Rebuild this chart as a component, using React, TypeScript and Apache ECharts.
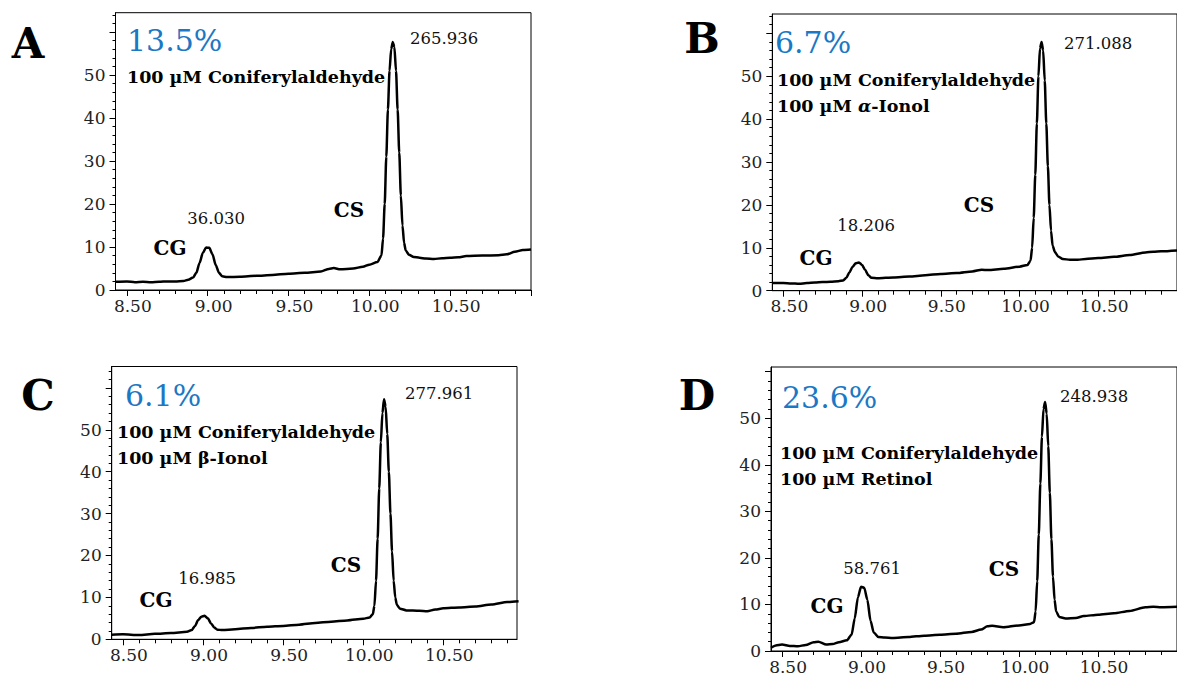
import React, { useEffect, useRef } from "react";
import * as echarts from "echarts";

// ---------- DATA ----------
const timeA = [8.43, 8.5, 8.55, 8.6, 8.65, 8.7, 8.75, 8.8, 8.85, 8.88, 8.91, 8.93, 8.95, 8.97, 8.99, 9.01, 9.03, 9.05, 9.07, 9.09, 9.12, 9.2, 9.3, 9.4, 9.5, 9.6, 9.7, 9.75, 9.78, 9.82, 9.9, 9.96, 10.0, 10.05, 10.075, 10.085, 10.095, 10.105, 10.115, 10.125, 10.135, 10.145, 10.155, 10.165, 10.175, 10.185, 10.195, 10.205, 10.215, 10.225, 10.245, 10.275, 10.31, 10.35, 10.4, 10.45, 10.5, 10.55, 10.6, 10.7, 10.8, 10.85, 10.9, 10.95, 11.0];
const signalA = [1.9, 2.0, 1.8, 1.9, 1.8, 1.9, 2.0, 2.0, 2.1, 2.4, 2.9, 4.0, 6.3, 8.6, 9.9, 9.8, 8.3, 5.8, 4.0, 3.2, 3.0, 3.1, 3.3, 3.5, 3.8, 4.0, 4.3, 4.9, 5.1, 4.8, 5.0, 5.4, 5.9, 6.5, 8.0, 12, 20, 31, 42, 51, 56, 57.7, 56.5, 51, 42, 32, 22, 15, 11, 9.2, 8.2, 7.7, 7.5, 7.3, 7.2, 7.4, 7.5, 7.6, 7.9, 8.0, 8.1, 8.3, 8.9, 9.3, 9.4];

const timeB = [8.43, 8.5, 8.55, 8.6, 8.65, 8.7, 8.75, 8.8, 8.85, 8.88, 8.9, 8.92, 8.94, 8.96, 8.98, 9.0, 9.02, 9.04, 9.06, 9.1, 9.2, 9.3, 9.4, 9.5, 9.6, 9.7, 9.76, 9.8, 9.9, 10.0, 10.05, 10.07, 10.08, 10.09, 10.1, 10.11, 10.12, 10.13, 10.14, 10.15, 10.16, 10.17, 10.18, 10.19, 10.2, 10.21, 10.225, 10.245, 10.275, 10.32, 10.37, 10.42, 10.5, 10.6, 10.7, 10.8, 10.85, 10.9, 11.0];
const signalB = [1.8, 1.8, 1.7, 1.6, 1.8, 1.9, 2.0, 2.1, 2.2, 2.4, 3.0, 4.3, 5.6, 6.4, 6.6, 6.0, 4.8, 3.6, 3.0, 2.9, 3.1, 3.3, 3.6, 3.9, 4.1, 4.5, 4.9, 4.8, 5.1, 5.6, 6.0, 7.0, 10, 17, 27, 39, 50, 56.5, 58, 56, 49, 39, 29, 20, 14, 10.5, 9.0, 8.0, 7.4, 7.2, 7.2, 7.4, 7.6, 7.9, 8.3, 8.9, 9.1, 9.2, 9.4];

const timeC = [8.43, 8.5, 8.6, 8.7, 8.8, 8.9, 8.93, 8.95, 8.97, 8.99, 9.01, 9.03, 9.05, 9.07, 9.09, 9.12, 9.2, 9.3, 9.4, 9.5, 9.6, 9.7, 9.8, 9.9, 10.0, 10.04, 10.06, 10.07, 10.08, 10.09, 10.1, 10.11, 10.12, 10.13, 10.14, 10.15, 10.16, 10.17, 10.18, 10.19, 10.2, 10.21, 10.23, 10.27, 10.35, 10.4, 10.45, 10.5, 10.6, 10.7, 10.8, 10.9, 10.97];
const signalC = [1.1, 1.2, 1.0, 1.3, 1.5, 1.8, 2.2, 3.2, 4.6, 5.4, 5.6, 5.0, 3.8, 2.8, 2.3, 2.2, 2.4, 2.7, 3.0, 3.2, 3.5, 3.9, 4.2, 4.5, 4.9, 5.2, 6.0, 8, 14, 24, 36, 47, 54, 57.3, 55.5, 49, 40, 30, 21, 14, 10, 8.2, 7.3, 6.9, 6.8, 6.7, 7.1, 7.4, 7.6, 7.8, 8.3, 8.9, 9.1];

const timeD = [8.43, 8.46, 8.5, 8.55, 8.6, 8.65, 8.7, 8.73, 8.78, 8.82, 8.86, 8.91, 8.94, 8.96, 8.98, 9.0, 9.02, 9.04, 9.06, 9.08, 9.11, 9.15, 9.2, 9.3, 9.4, 9.5, 9.6, 9.7, 9.76, 9.8, 9.83, 9.9, 10.0, 10.07, 10.095, 10.105, 10.115, 10.125, 10.135, 10.145, 10.155, 10.165, 10.175, 10.185, 10.195, 10.205, 10.215, 10.225, 10.235, 10.255, 10.295, 10.36, 10.41, 10.5, 10.6, 10.7, 10.8, 10.85, 10.9, 11.0];
const signalD = [0.7, 1.2, 1.4, 1.1, 1.0, 1.3, 1.9, 2.0, 1.4, 1.5, 1.9, 2.3, 3.5, 7.0, 11.5, 13.8, 13.6, 11, 6.5, 4.0, 3.0, 2.9, 2.8, 3.0, 3.3, 3.5, 3.7, 4.1, 4.6, 5.3, 5.4, 5.1, 5.5, 5.8, 6.2, 8.5, 15, 25, 36, 46, 52, 53.5, 51, 44, 34, 24, 16, 11, 8.5, 7.3, 7.0, 7.1, 7.5, 7.8, 8.1, 8.6, 9.4, 9.5, 9.4, 9.5];

const xLabelTicks = [8.5, 9.0, 9.5, 10.0, 10.5];
const xMajorTicks = [8.5, 9.0, 9.5, 10.0, 10.5, 11.0];
const xMinorTicks = [8.5, 8.6, 8.7, 8.8, 8.9, 9.0, 9.1, 9.2, 9.3, 9.4, 9.5, 9.6, 9.7, 9.8, 9.9, 10.0, 10.1, 10.2, 10.3, 10.4, 10.5, 10.6, 10.7, 10.8, 10.9, 11.0];
const yLabelTicks = [0, 10, 20, 30, 40, 50];
const yMajorTicks = [0, 10, 20, 30, 40, 50, 60];
const yMinorTicks = [0, 2, 4, 6, 8, 10, 12, 14, 16, 18, 20, 22, 24, 26, 28, 30, 32, 34, 36, 38, 40, 42, 44, 46, 48, 50, 52, 54, 56, 58, 60, 62, 64];

const panelLetters = ["A", "B", "C", "D"];
const yields = ["13.5%", "6.7%", "6.1%", "23.6%"];
const peakCG = ["36.030", "18.206", "16.985", "58.761"];
const peakCS = ["265.936", "271.088", "277.961", "248.938"];

const SERIF = '"DejaVu Serif", "Liberation Serif", serif';

const panels = [
  { t: timeA, s: signalA, left: 115.5, top: 12.7, width: 415.5, height: 277.3, xMax: 11.0, yMax: 64.5 },
  { t: timeB, s: signalB, left: 772.3, top: 14, width: 416, height: 276.7, xMax: 11.0, yMax: 64.5 },
  { t: timeC, s: signalC, left: 111.7, top: 366.5, width: 405.3, height: 272.8, xMax: 10.96, yMax: 65.1 },
  { t: timeD, s: signalD, left: 771, top: 367, width: 411, height: 284, xMax: 11.0, yMax: 61 },
];

// text placement per panel
const textPos = [
  { letter: [28, 43], pct: [127, 40], lines: [127, 77], cs: [410, 38], cg: [216, 218], cgTag: [170, 248], csTag: [349, 210] },
  { letter: [702, 38], pct: [775, 42], lines: [777, 80], cs: [1064, 43], cg: [866, 225], cgTag: [816, 258], csTag: [979, 205] },
  { letter: [38, 395], pct: [125, 395], lines: [117, 432], cs: [405, 393], cg: [207, 578], cgTag: [156, 600], csTag: [346, 565] },
  { letter: [697, 395], pct: [782, 397], lines: [780, 453], cs: [1060, 396], cg: [872, 568], cgTag: [827, 606], csTag: [1004, 569] },
];

const conditionLines = [
  ["100 µM Coniferylaldehyde"],
  ["100 µM Coniferylaldehyde", "{b|100 µM }{i|α}{b|-Ionol}"],
  ["100 µM Coniferylaldehyde", "100 µM β-Ionol"],
  ["100 µM Coniferylaldehyde", "100 µM Retinol"],
];

function buildOption() {
  const grid: any[] = [];
  const xAxis: any[] = [];
  const yAxis: any[] = [];
  const series: any[] = [];
  const graphic: any[] = [];

  panels.forEach((p, i) => {
    grid.push({
      left: p.left, top: p.top, width: p.width, height: p.height,
      show: true, borderColor: "#000", borderWidth: 1, backgroundColor: "transparent",
      containLabel: false,
    });
    xAxis.push({
      type: "value", gridIndex: i, min: 8.43, max: p.xMax, position: "bottom",
      axisLine: { show: true, onZero: false, lineStyle: { color: "#000", width: 1 } },
      axisTick: { show: true, customValues: xMajorTicks, length: 6, lineStyle: { color: "#000" } },
      axisLabel: {
        show: true, customValues: xLabelTicks, formatter: (v: number) => v.toFixed(2),
        fontFamily: SERIF, fontSize: 17, color: "#222", margin: 7, padding: [0, 0, 0, 12],
      },
      splitLine: { show: false },
    });
    xAxis.push({
      type: "value", gridIndex: i, min: 8.43, max: p.xMax, position: "bottom",
      axisLine: { show: false, onZero: false },
      axisTick: { show: true, customValues: xMinorTicks, length: 4, lineStyle: { color: "#000" } },
      axisLabel: { show: false },
      splitLine: { show: false },
    });
    yAxis.push({
      type: "value", gridIndex: i, min: 0, max: p.yMax, position: "left",
      axisLine: { show: true, onZero: false, lineStyle: { color: "#000", width: 1 } },
      axisTick: { show: true, customValues: yMajorTicks, length: 6, lineStyle: { color: "#000" } },
      axisLabel: {
        show: true, customValues: yLabelTicks, fontFamily: SERIF, fontSize: 17, color: "#222", margin: 10,
      },
      splitLine: { show: false },
    });
    yAxis.push({
      type: "value", gridIndex: i, min: 0, max: p.yMax, position: "left",
      axisLine: { show: false, onZero: false },
      axisTick: { show: true, customValues: yMinorTicks, length: 3, lineStyle: { color: "#000" } },
      axisLabel: { show: false },
      splitLine: { show: false },
    });
    series.push({
      type: "line",
      xAxisIndex: 2 * i,
      yAxisIndex: 2 * i,
      data: p.t.map((x, k) => [x, p.s[k]]),
      showSymbol: false,
      smooth: 0.25,
      smoothMonotone: "x",
      lineStyle: { color: "#000", width: 2.5 },
      itemStyle: { color: "#000" },
      clip: true,
    });

    const tp = textPos[i];
    graphic.push({
      type: "text", x: tp.letter[0], y: tp.letter[1],
      style: { text: panelLetters[i], font: `bold 42px ${SERIF}`, fill: "#000", textAlign: "center", textVerticalAlign: "middle" },
    });
    graphic.push({
      type: "text", x: tp.pct[0], y: tp.pct[1],
      style: { text: yields[i], font: `30px ${SERIF}`, fill: "#1b78c4", textAlign: "left", textVerticalAlign: "middle" },
    });
    conditionLines[i].forEach((line, j) => {
      graphic.push({
        type: "text", x: tp.lines[0], y: tp.lines[1] + j * 26,
        style: {
          text: line, font: `bold 17.5px ${SERIF}`, fill: "#000", textAlign: "left", textVerticalAlign: "middle",
          rich: {
            b: { font: `bold 17.5px ${SERIF}`, fill: "#000" },
            i: { font: `italic bold 17.5px ${SERIF}`, fill: "#000" },
          },
        },
      });
    });
    graphic.push({
      type: "text", x: tp.cs[0], y: tp.cs[1],
      style: { text: peakCS[i], font: `16.5px ${SERIF}`, fill: "#111", textAlign: "left", textVerticalAlign: "middle" },
    });
    graphic.push({
      type: "text", x: tp.cg[0], y: tp.cg[1],
      style: { text: peakCG[i], font: `16.5px ${SERIF}`, fill: "#111", textAlign: "center", textVerticalAlign: "middle" },
    });
    graphic.push({
      type: "text", x: tp.cgTag[0], y: tp.cgTag[1],
      style: { text: "CG", font: `bold 20px ${SERIF}`, fill: "#000", textAlign: "center", textVerticalAlign: "middle" },
    });
    graphic.push({
      type: "text", x: tp.csTag[0], y: tp.csTag[1],
      style: { text: "CS", font: `bold 20px ${SERIF}`, fill: "#000", textAlign: "center", textVerticalAlign: "middle" },
    });
  });

  return {
    animation: false,
    backgroundColor: "#fff",
    grid, xAxis, yAxis, series, graphic,
  };
}

export default function App() {
  const ref = useRef<HTMLDivElement>(null);
  useEffect(() => {
    if (!ref.current) return;
    const chart = echarts.init(ref.current, undefined, { renderer: "svg" });
    chart.setOption(buildOption() as any);
    return () => chart.dispose();
  }, []);
  return (
    <div
      ref={ref}
      style={{ position: "fixed", left: 0, top: 0, width: 1177, height: 677, background: "#fff" }}
    />
  );
}
